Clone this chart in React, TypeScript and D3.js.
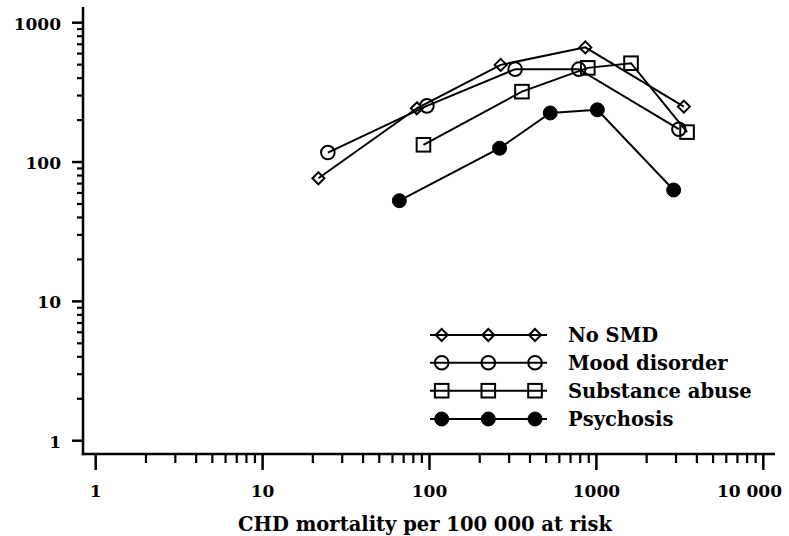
import React from "react";
import * as d3 from "d3";

const xTickValues = [1, 10, 100, 1000, 10000];
const xTickLabels = ["1", "10", "100", "1000", "10 000"];
const yTickValues = [1, 10, 100, 1000];
const yTickLabels = ["1", "10", "100", "1000"];

const noSmdX = [21.6, 84, 267, 858, 3342];
const noSmdY = [76.5, 243, 498, 665, 250];
const moodX = [24.6, 96.5, 326, 784, 3119];
const moodY = [117, 253, 464, 464, 172];
const substanceX = [92, 358, 888, 1612, 3493];
const substanceY = [133, 320, 474, 512, 164];
const psychosisX = [66, 263, 529, 1013, 2904];
const psychosisY = [52.8, 125.6, 225, 237, 63];

const seriesNames = ["No SMD", "Mood disorder", "Substance abuse", "Psychosis"];
const seriesMarkers = ["diamond", "circle", "square", "dot"];

const FONT = "'DejaVu Serif', serif";

function Marker({ type, x, y }: { type: string; x: number; y: number }) {
  if (type === "diamond") {
    const s = 6;
    return (
      <path
        d={`M${x},${y - s}L${x + s},${y}L${x},${y + s}L${x - s},${y}Z`}
        fill="none"
        stroke="black"
        strokeWidth={2}
      />
    );
  }
  if (type === "circle") {
    return <circle cx={x} cy={y} r={6.8} fill="none" stroke="black" strokeWidth={2} />;
  }
  if (type === "square") {
    const s = 6.8;
    return <rect x={x - s} y={y - s} width={2 * s} height={2 * s} fill="none" stroke="black" strokeWidth={2} />;
  }
  return <circle cx={x} cy={y} r={7} fill="black" stroke="black" strokeWidth={1} />;
}

export default function App() {
  const W = 789;
  const H = 536;
  const x = d3.scaleLog().domain([1, 10000]).range([95.7, 763.3]);
  const y = d3.scaleLog().domain([1, 1000]).range([440.7, 22.7]);
  const axisLeft = 83;
  const axisBottom = 454;

  const series = [
    { xs: noSmdX, ys: noSmdY },
    { xs: moodX, ys: moodY },
    { xs: substanceX, ys: substanceY },
    { xs: psychosisX, ys: psychosisY },
  ];

  const line = d3
    .line<[number, number]>()
    .x((d) => x(d[0]))
    .y((d) => y(d[1]));

  const xMinor: number[] = [];
  for (let d = 1; d < 10000; d *= 10) for (let k = 2; k <= 9; k++) xMinor.push(d * k);
  const yMinor: number[] = [];
  for (let d = 1; d < 1000; d *= 10) for (let k = 2; k <= 9; k++) yMinor.push(d * k);

  const legendX0 = 430;
  const legendX1 = 547;
  const legendMarkX = [441.7, 488.3, 535];
  const legendRows = [335, 362.7, 390.7, 419];

  return (
    <svg width={W} height={H} style={{ position: "absolute", left: 0, top: 0, background: "white" }}>
      <rect width={W} height={H} fill="white" />
      {/* axes */}
      <line x1={axisLeft} y1={7} x2={axisLeft} y2={axisBottom + 1.2} stroke="black" strokeWidth={2.5} />
      <line x1={axisLeft - 1.2} y1={axisBottom} x2={775} y2={axisBottom} stroke="black" strokeWidth={2.5} />
      {xTickValues.map((v, i) => {
        const last = i === xTickValues.length - 1;
        return (
          <g key={"xt" + i}>
            <line x1={x(v)} x2={x(v)} y1={axisBottom} y2={axisBottom + 16} stroke="black" strokeWidth={2.5} />
            <text
              x={last ? 782 : x(v)}
              y={497}
              textAnchor={last ? "end" : "middle"}
              fontFamily={FONT}
              fontWeight="bold"
              fontSize={17}
            >
              {xTickLabels[i]}
            </text>
          </g>
        );
      })}
      {xMinor.map((v, i) => (
        <line key={"xm" + i} x1={x(v)} x2={x(v)} y1={axisBottom} y2={axisBottom + 9} stroke="black" strokeWidth={2.2} />
      ))}
      {yTickValues.map((v, i) => (
        <g key={"yt" + i}>
          <line x1={axisLeft - 11} x2={axisLeft} y1={y(v)} y2={y(v)} stroke="black" strokeWidth={2.5} />
          <text x={61} y={y(v) + 7} textAnchor="end" fontFamily={FONT} fontWeight="bold" fontSize={17}>
            {yTickLabels[i]}
          </text>
        </g>
      ))}
      {yMinor.map((v, i) => (
        <line key={"ym" + i} x1={axisLeft - 6} x2={axisLeft} y1={y(v)} y2={y(v)} stroke="black" strokeWidth={2.2} />
      ))}
      <text x={425} y={531} textAnchor="middle" fontFamily={FONT} fontWeight="600" fontSize={19.5}>
        CHD mortality per 100 000 at risk
      </text>

      {/* series */}
      {series.map((s, si) => {
        const pts = s.xs.map((xv, j) => [xv, s.ys[j]] as [number, number]);
        return (
          <g key={"s" + si}>
            <path d={line(pts) || ""} fill="none" stroke="black" strokeWidth={2} />
            {pts.map((p, j) => (
              <Marker key={j} type={seriesMarkers[si]} x={x(p[0])} y={y(p[1])} />
            ))}
          </g>
        );
      })}

      {/* legend */}
      {seriesNames.map((name, i) => (
        <g key={"lg" + i}>
          <line x1={legendX0} x2={legendX1} y1={legendRows[i]} y2={legendRows[i]} stroke="black" strokeWidth={2} />
          {legendMarkX.map((mx, j) => (
            <Marker key={j} type={seriesMarkers[i]} x={mx} y={legendRows[i]} />
          ))}
          <text x={568} y={legendRows[i] + 7} fontFamily={FONT} fontWeight="600" fontSize={19.5}>
            {name}
          </text>
        </g>
      ))}
    </svg>
  );
}
